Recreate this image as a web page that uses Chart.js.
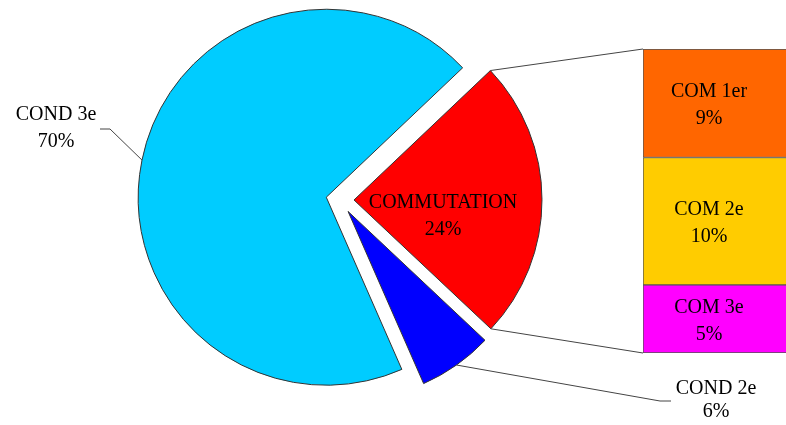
<!DOCTYPE html>
<html>
<head>
<meta charset="utf-8">
<script src="https://cdn.jsdelivr.net/npm/chart.js@4"></script>
<style>
  html, body { margin: 0; padding: 0; background: #fff; }
  #wrap { position: relative; width: 786px; height: 425px; overflow: hidden; }
  #pie { position: absolute; left: 0; top: 0; }
  #bar { position: absolute; left: 642px; top: 48px; }
</style>
</head>
<body>
<div id="wrap">
  <canvas id="pie" width="786" height="425"></canvas>
  <canvas id="bar" width="146" height="306"></canvas>
</div>
<script>
var pieLabels = ["COMMUTATION", "COND 2e", "COND 3e"];
var pieValues = [24.1, 6.4, 69.5];
var pieColors = ["#ff0000", "#0000ff", "#00ccff"];

var barLabels = ["COM 1er", "COM 2e", "COM 3e"];
var barValues = [8.6, 10.1, 5.4];
var barColors = ["#ff6600", "#ffcc00", "#ff00ff"];

var font = '20px "Liberation Serif", "Times New Roman", serif';
var explode = 14;

function pct(v) {
  return Math.round(v) + "%";
}

function twoLines(ctx, text, value, x, y, gap) {
  ctx.fillText(text, x, y);
  ctx.fillText(pct(value), x, y + gap);
}

// stacked bar on the right
var barTotal = barValues.reduce(function (a, b) { return a + b; }, 0);
var barSets = barLabels.map(function (name, i) {
  return {
    label: name,
    data: [barValues[i]],
    backgroundColor: barColors[i],
    borderColor: "#555",
    borderWidth: 1,
    borderSkipped: false,
    barPercentage: 1,
    categoryPercentage: 1
  };
});

var barText = {
  id: "barText",
  afterDatasetsDraw: function (chart) {
    var ctx = chart.ctx;
    ctx.save();
    ctx.font = font;
    ctx.fillStyle = "#000";
    ctx.textAlign = "center";
    ctx.textBaseline = "middle";
    chart.data.datasets.forEach(function (ds, i) {
      var el = chart.getDatasetMeta(i).data[0];
      var cy = (el.y + el.base) / 2;
      twoLines(ctx, ds.label, ds.data[0], chart.chartArea.left + 66, cy - 11, 27);
    });
    ctx.restore();
  }
};

var barChart = new Chart(document.getElementById("bar"), {
  type: "bar",
  data: { labels: [""], datasets: barSets },
  options: {
    responsive: false,
    animation: false,
    layout: { padding: { left: 1, top: 1, bottom: 1, right: 0 } },
    plugins: { legend: { display: false }, tooltip: { enabled: false } },
    scales: {
      x: { display: false, stacked: true },
      y: { display: false, stacked: true, min: 0, max: barTotal, reverse: true }
    }
  },
  plugins: [barText]
});

// pull every slice out along its middle angle
var explodeSlices = {
  id: "explodeSlices",
  afterDatasetsUpdate: function (chart) {
    chart.getDatasetMeta(0).data.forEach(function (arc) {
      var mid = (arc.startAngle + arc.endAngle) / 2;
      arc.x += explode * Math.cos(mid);
      arc.y += explode * Math.sin(mid);
    });
  }
};

function edgePoint(arc, angle) {
  return { x: arc.x + arc.outerRadius * Math.cos(angle), y: arc.y + arc.outerRadius * Math.sin(angle) };
}

var pieExtras = {
  id: "pieExtras",
  afterDraw: function (chart) {
    var ctx = chart.ctx;
    var arcs = chart.getDatasetMeta(0).data;
    var red = arcs[0], blue = arcs[1], cyan = arcs[2];

    ctx.save();
    ctx.strokeStyle = "#444";
    ctx.lineWidth = 1;

    // lines from the exploded slice to the bar
    var bc = document.getElementById("bar");
    var first = barChart.getDatasetMeta(0).data[0];
    var last = barChart.getDatasetMeta(barValues.length - 1).data[0];
    var bx = bc.offsetLeft + first.x - first.width / 2;
    var top = bc.offsetTop + Math.min(first.y, first.base);
    var bottom = bc.offsetTop + Math.max(last.y, last.base);
    var p1 = edgePoint(red, red.startAngle);
    var p2 = edgePoint(red, red.endAngle);
    ctx.beginPath();
    ctx.moveTo(p1.x, p1.y);
    ctx.lineTo(bx, top);
    ctx.moveTo(p2.x, p2.y);
    ctx.lineTo(bx, bottom);
    ctx.stroke();

    // leader lines
    var c = edgePoint(cyan, (cyan.startAngle + cyan.endAngle) / 2);
    var b = edgePoint(blue, (blue.startAngle + blue.endAngle) / 2);
    ctx.beginPath();
    ctx.moveTo(100, 129);
    ctx.lineTo(110, 129);
    ctx.lineTo(c.x, c.y);
    ctx.moveTo(b.x, b.y);
    ctx.lineTo(660, 401);
    ctx.lineTo(671, 401);
    ctx.stroke();

    // labels
    ctx.font = font;
    ctx.fillStyle = "#000";
    ctx.textAlign = "center";
    ctx.textBaseline = "middle";
    twoLines(ctx, pieLabels[2], pieValues[2], 56, 115, 27);
    twoLines(ctx, pieLabels[0], pieValues[0], 443, 203, 27);
    twoLines(ctx, pieLabels[1], pieValues[1], 716, 389, 23);
    ctx.restore();
  }
};

var pieChart = new Chart(document.getElementById("pie"), {
  type: "pie",
  data: {
    labels: pieLabels,
    datasets: [{
      data: pieValues,
      backgroundColor: pieColors,
      borderColor: "#333",
      borderWidth: 1,
      radius: 188
    }]
  },
  options: {
    responsive: false,
    animation: false,
    rotation: 46.5,
    layout: { padding: { left: 0, top: 0, right: 106, bottom: 25 } },
    plugins: { legend: { display: false }, tooltip: { enabled: false } }
  },
  plugins: [explodeSlices, pieExtras]
});
</script>
</body>
</html>
